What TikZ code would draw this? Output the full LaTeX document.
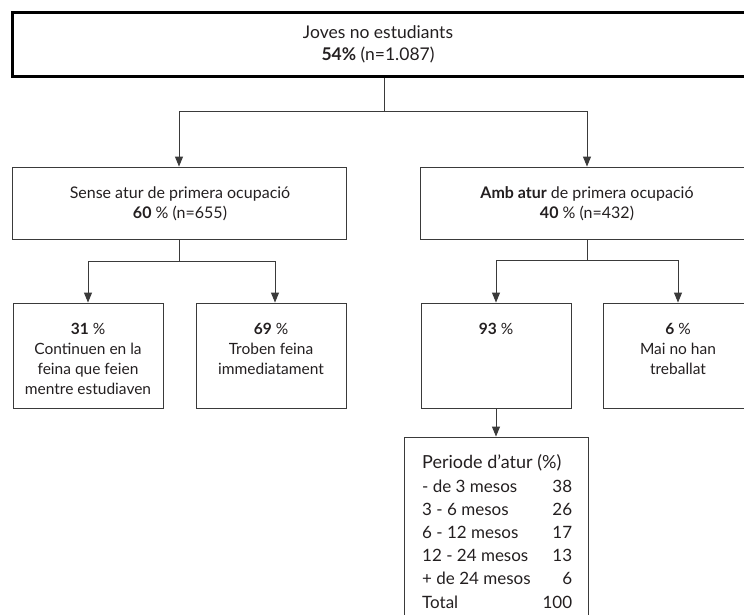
\documentclass[tikz,border=0pt]{standalone}
\usepackage{fontspec}
\setmainfont{Lato}
\usetikzlibrary{arrows.meta,calc}
\definecolor{txtc}{HTML}{231F20}
\definecolor{linec}{HTML}{3A3A3A}
\begin{document}
\begin{tikzpicture}[x=1pt,y=-1pt,
  box/.style={draw=linec, line width=0.9pt, rectangle, inner sep=0pt},
  topbox/.style={draw=black, line width=3pt, rectangle, inner sep=0pt},
  txt/.style={font=\fontsize{15.5}{20}\selectfont, text=txtc, align=center, inner sep=0pt},
  conn/.style={draw=linec, line width=0.9pt},
  arr/.style={conn, -{Triangle[length=10pt,width=8pt]}},
]
\useasboundingbox (0,0) rectangle (744,614);
% boxes
\node[topbox, minimum width=744pt, minimum height=64pt] (top) at (384,44) {};
\node[box, minimum width=334pt, minimum height=72pt] (sense) at (179,203) {};
\node[box, minimum width=334pt, minimum height=72pt] (amb) at (587,203) {};
\node[box, minimum width=150pt, minimum height=105pt] (b1) at (88,355.5) {};
\node[box, minimum width=150pt, minimum height=105pt] (b2) at (271,355.5) {};
\node[box, minimum width=150pt, minimum height=105pt] (b3) at (496,355.5) {};
\node[box, minimum width=150pt, minimum height=105pt] (b4) at (678,355.5) {};
\node[box, minimum width=184pt, minimum height=200pt] (per) at (496,537) {};
% texts
\node[txt, font=\fontsize{17.5}{22}\selectfont] (topT) at (378,44) {Joves no estudiants\\\textbf{54\%} (n=1.087)};
\node[txt, font=\fontsize{16}{20}\selectfont] (senseT) at (180,203.5) {Sense atur de primera ocupació\\\textbf{60} \% (n=655)};
\node[txt, font=\fontsize{16}{20}\selectfont] (ambT) at (587,203.5) {\textbf{Amb atur} de primera ocupació\\\textbf{40} \% (n=432)};
\node[txt] (b1T) at (88,358.5) {\textbf{31} \%\\Continuen en la\\feina que feien\\mentre estudiaven};
\node[txt] (b2T) at (271,348.5) {\textbf{69} \%\\Troben feina\\immediatament};
\node[txt] (b3T) at (496,328.5) {\textbf{93} \%};
\node[txt] (b4T) at (678,348.5) {\textbf{6} \%\\Mai no han\\treballat};
\node[txt, font=\fontsize{17}{23.2}\selectfont, anchor=north west, align=left] (perT) at (422,452.5) {%
  \begin{tabular*}{150pt}{@{}l@{\extracolsep{\fill}}r@{}}
  \multicolumn{2}{@{}l@{}}{\fontsize{18}{23.2}\selectfont Periode d’atur (\%)}\\
  - de 3 mesos & 38\\
  3 - 6 mesos & 26\\
  6 - 12 mesos & 17\\
  12 - 24 mesos & 13\\
  + de 24 mesos & 6\\
  Total & 100
  \end{tabular*}};
% connectors
\coordinate (j1) at ($(top.south)+(0,34)$);
\draw[conn] (top.south) -- (j1);
\draw[arr] (j1) -| (sense.north);
\draw[arr] (j1) -| (amb.north);
\coordinate (j2) at ($(sense.south)+(0,22)$);
\draw[conn] (sense.south) -- (j2);
\draw[arr] (j2) -| (b1.north);
\draw[arr] (j2) -| ($(b2.north)+(4,0)$);
\coordinate (j3) at ($(amb.south)+(0,21)$);
\draw[conn] (amb.south) -- (j3);
\draw[arr] (j3) -| (b3.north);
\draw[arr] (j3) -| (b4.north);
\draw[arr] (b3.south) -- (per.north);
\end{tikzpicture}
\end{document}
